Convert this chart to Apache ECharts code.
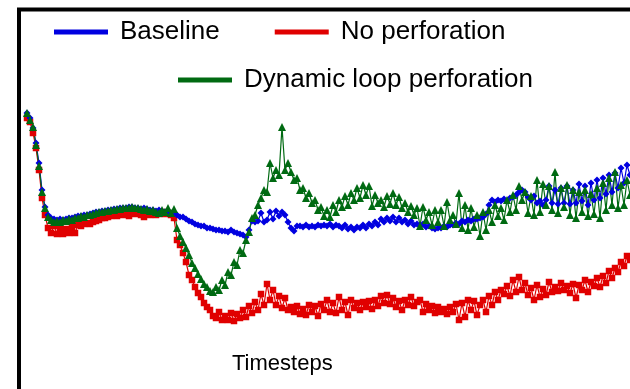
<!DOCTYPE html>
<html>
<head>
<meta charset="utf-8">
<script src="https://cdn.jsdelivr.net/npm/echarts@6/dist/echarts.min.js"></script>
<style>
  html, body { margin: 0; padding: 0; background: #fff; }
  #chart { width: 630px; height: 389px; }
</style>
</head>
<body>
<div id="chart"></div>
<script>
// values, one per timestep (arbitrary units, no ticks shown)
const baseline = [
  237,232,222,207,187,160,143,135,132,131,130,131,130,131,132,132,133,134,134,135,
  135,136,137,138,138,139,139,140,140,141,141,142,142,142,143,143,142,142,141,142,
  141,140,140,139,140,139,138,138,137,137,135,133,133,131,129,128,126,125,124,124,
  122,122,121,120,120,119,119,118,120,118,117,116,115,113,120,129,128,129,137,128,
  130,138,131,139,134,138,135,128,122,119,124,124,123,125,123,124,123,125,124,125,
  124,126,123,125,124,122,125,121,123,120,123,122,125,122,126,124,128,125,131,128,
  132,129,133,128,132,128,130,126,129,125,126,124,126,123,124,122,121,122,122,124,
  123,125,125,127,126,129,128,130,129,131,131,132,133,136,145,150,148,150,149,151,
  149,152,153,155,158,160,158,153,150,154,147,149,145,150,164,147,160,146,162,147,
  164,146,160,147,166,149,164,145,167,150,170,152,172,156,175,158,177,162,182,167,
  185,175
];
const noPerforation = [
  232,228,217,202,180,152,135,122,117,124,116,122,116,121,117,123,117,125,124,126,
  127,126,128,129,130,132,132,133,134,135,134,136,135,137,134,138,136,138,135,133,
  136,135,137,135,136,138,136,137,135,132,110,105,97,88,75,70,63,57,53,47,
  43,40,34,32,38,30,34,30,37,29,36,32,40,33,44,37,48,40,56,45,
  66,50,60,45,54,42,52,40,43,38,44,36,41,35,45,38,44,34,46,40,
  50,38,47,37,53,40,48,35,50,42,47,40,48,43,49,41,50,44,54,47,
  55,46,52,43,49,40,50,45,53,44,48,50,38,46,40,44,37,43,38,41,
  36,43,38,46,30,47,33,50,40,49,35,45,50,38,54,45,58,50,60,56,
  64,54,70,58,73,60,67,55,62,50,65,53,61,55,68,58,63,59,67,60,
  64,57,66,52,65,60,70,58,68,64,72,63,74,67,79,72,82,78,88,84,
  94,90
];
const dynamicPerforation = [
  237,230,223,205,184,158,142,133,130,128,129,128,130,129,131,130,132,132,134,133,
  135,135,136,137,138,138,139,139,140,140,141,141,142,142,142,143,142,142,141,140,
  141,139,140,138,137,140,138,142,137,141,122,114,108,102,95,87,82,76,71,66,
  63,59,58,63,60,70,65,78,75,88,85,100,97,110,118,132,135,145,152,160,
  158,187,172,180,175,223,180,187,178,170,172,160,162,152,157,147,150,140,143,134,
  140,133,145,138,150,143,154,145,157,150,162,152,165,155,164,144,155,147,150,143,
  154,146,157,145,153,142,147,138,144,135,142,124,143,130,138,125,140,128,140,124,
  148,130,135,126,157,122,145,120,142,123,135,114,138,120,140,128,145,134,142,130,
  150,138,155,140,164,150,158,137,154,135,170,138,166,145,164,140,178,137,162,143,
  165,135,160,132,158,138,160,134,156,136,162,132,167,140,172,145,178,142,165,145,
  170,155
];
const seriesNames = ['Baseline', 'No perforation', 'Dynamic loop perforation'];

const chart = echarts.init(document.getElementById('chart'));
const font = 'Liberation Sans, Arial, sans-serif';
const withTime = arr => arr.map((v, i) => [i, v]);

const lineSeries = (name, values, color, symbol, size) => ({
  name: name,
  type: 'line',
  data: withTime(values),
  symbol: symbol,
  symbolSize: size,
  showSymbol: true,
  itemStyle: { color: color },
  lineStyle: { color: color, width: 1.2 },
  emphasis: { disabled: true }
});

chart.setOption({
  animation: false,
  grid: { left: 27, right: 0, top: 100, bottom: 39 },
  xAxis: {
    type: 'value', min: 0, max: baseline.length - 1,
    axisLine: { show: false }, axisTick: { show: false },
    axisLabel: { show: false }, splitLine: { show: false }
  },
  yAxis: {
    type: 'value', min: 0, max: 250,
    axisLine: { show: false }, axisTick: { show: false },
    axisLabel: { show: false }, splitLine: { show: false }
  },
  legend: [
    {
      data: [seriesNames[0], seriesNames[1]],
      left: 54, top: 19, padding: 0,
      icon: 'rect', itemWidth: 54, itemHeight: 5, itemGap: 55,
      textStyle: { fontFamily: font, fontSize: 26, color: '#000', padding: [0, 0, 0, 7] }
    },
    {
      data: [seriesNames[2]],
      left: 178, top: 67, padding: 0,
      icon: 'rect', itemWidth: 54, itemHeight: 5,
      textStyle: { fontFamily: font, fontSize: 26, color: '#000', padding: [0, 0, 0, 7] }
    }
  ],
  graphic: [
    {
      type: 'rect',
      shape: { x: 19, y: 9.5, width: 700, height: 500 },
      style: { fill: 'none', stroke: '#000', lineWidth: 4 },
      z: 100
    },
    {
      type: 'text',
      left: 232, top: 353,
      style: { text: 'Timesteps', font: '22px ' + font, fill: '#000' }
    }
  ],
  series: [
    lineSeries(seriesNames[1], noPerforation, '#e00000', 'rect', 6.5),
    lineSeries(seriesNames[0], baseline, '#0000e0', 'diamond', 7),
    lineSeries(seriesNames[2], dynamicPerforation, '#006a12', 'triangle', 8)
  ]
});
</script>
</body>
</html>
